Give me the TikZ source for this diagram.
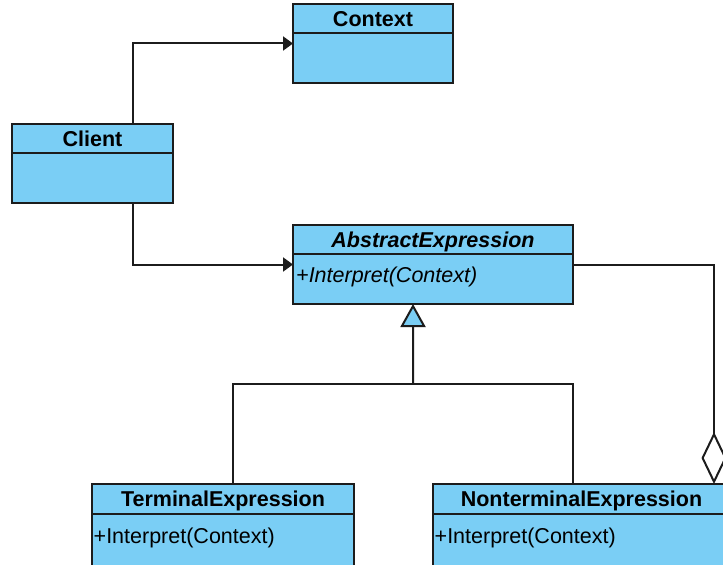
\documentclass[tikz,border=0pt]{standalone}
\usepackage{fontspec}
\setmainfont{Liberation Sans}
\usetikzlibrary{arrows.meta,calc}
\definecolor{classfill}{RGB}{122,206,245}
\definecolor{edgecol}{RGB}{28,28,28}
\tikzset{
  classbox/.style={rectangle, draw=edgecol, fill=classfill, line width=2bp,
    inner sep=0pt, outer sep=0pt, anchor=north west},
  classname/.style={font=\fontsize{21.5bp}{24bp}\selectfont\bfseries,
    anchor=base, inner sep=0pt},
  operation/.style={font=\fontsize{21.5bp}{24bp}\selectfont,
    anchor=base west, inner sep=0pt},
  divider/.style={draw=edgecol, line width=2bp},
  link/.style={draw=edgecol, line width=2bp},
  navarrow/.style={-{Triangle[length=10bp,width=14bp]}},
  genarrow/.style={-{Triangle[length=23bp,width=25bp,fill=classfill]}},
  aggtail/.style={{Diamond[length=52bp,width=25bp,fill=white]}-},
}
\begin{document}
\begin{tikzpicture}[x=1bp,y=-1bp]
\useasboundingbox (0,0) rectangle (723,565);
\fill[white] (0,0) rectangle (723,565);
\begin{scope}
\clip (0,0) rectangle (723,565);

% Context
\node[classbox, minimum width=160bp, minimum height=79bp] (context) at (293,4) {};
\draw[divider] ([yshift=-29.5bp]context.north west) -- ([yshift=-29.5bp]context.north east);
\node[classname] (contextname) at ($(context.north)+(0,22.5)$) {Context};

% Client
\node[classbox, minimum width=161bp, minimum height=79bp] (client) at (12,124) {};
\draw[divider] ([yshift=-29bp]client.north west) -- ([yshift=-29bp]client.north east);
\node[classname] (clientname) at ($(client.north)+(0,22.2)$) {Client};

% AbstractExpression
\node[classbox, minimum width=280bp, minimum height=79bp] (abstract) at (293,225) {};
\draw[divider] ([yshift=-29bp]abstract.north west) -- ([yshift=-29bp]abstract.north east);
\node[classname, font=\fontsize{21.5bp}{24bp}\selectfont\bfseries\itshape] (abstractname)
  at ($(abstract.north)+(0,22.2)$) {AbstractExpression};
\node[operation, font=\fontsize{21.5bp}{24bp}\selectfont\itshape] (abstractop)
  at ($(abstract.north west)+(3,57)$) {+Interpret(Context)};

% TerminalExpression
\node[classbox, minimum width=262bp, minimum height=95bp] (terminal) at (92,484) {};
\draw[divider] ([yshift=-30bp]terminal.north west) -- ([yshift=-30bp]terminal.north east);
\node[classname] (terminalname) at ($(terminal.north)+(0,22.7)$) {TerminalExpression};
\node[operation] (terminalop) at ($(terminal.north west)+(1.5,59.5)$) {+Interpret(Context)};

% NonterminalExpression
\node[classbox, minimum width=297bp, minimum height=95bp] (nonterminal) at (433,484) {};
\draw[divider] ([yshift=-30bp]nonterminal.north west) -- ([yshift=-30bp]nonterminal.north east);
\node[classname] (nonterminalname) at ($(nonterminal.north)+(0,22.7)$) {NonterminalExpression};
\node[operation] (nonterminalop) at ($(nonterminal.north west)+(1.5,59.5)$) {+Interpret(Context)};

% Associations from Client
\draw[link, navarrow] ([xshift=40.5bp]client.north) |- (context.west);
\draw[link, navarrow] ([xshift=40.5bp]client.south) |- (abstract.west);

% Generalization
\coordinate (genjoin) at ($(abstract.south)+(-20,80)$);
\draw[link] ([xshift=10bp]terminal.north) |- (genjoin) -| ([xshift=-8.5bp]nonterminal.north);
\draw[link, genarrow] (genjoin) -- ([xshift=-20bp]abstract.south);

% Aggregation
\draw[link, aggtail] ([xshift=132.5bp]nonterminal.north) |- (abstract.east);

\end{scope}
\end{tikzpicture}
\end{document}
